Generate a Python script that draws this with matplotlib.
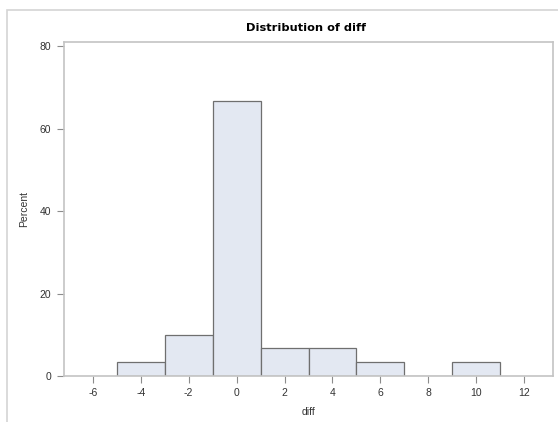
import matplotlib
matplotlib.use('Agg')
import matplotlib.pyplot as plt
from matplotlib.patches import Rectangle

# histogram of diff: bin midpoints (width 2) and percent of observations
BIN_MIDS = [-4, -2, 0, 2, 4, 6, 8, 10]
PERCENT = [3.33, 10.0, 66.67, 6.67, 6.67, 3.33, 0.0, 3.33]
X_TICKS = [-6, -4, -2, 0, 2, 4, 6, 8, 10, 12]
Y_TICKS = [0, 20, 40, 60, 80]

W, H = 558, 422

plt.rcParams['font.family'] = ['Liberation Sans', 'DejaVu Sans']

fig = plt.figure(figsize=(W / 100, H / 100), dpi=100)
fig.patch.set_facecolor('white')

# outer graph border (runs off the right and bottom of the image)
fig.patches.append(Rectangle((7 / W, -0.1), 2, (H - 10) / H + 0.1,
                             transform=fig.transFigure, fill=False,
                             edgecolor='#d4d4d4', linewidth=1.2))

ax = fig.add_axes([64 / W, 1 - 376 / H, (553 - 64) / W, (376 - 42) / H])
ax.bar(BIN_MIDS, PERCENT, width=2, color='#e3e8f2', edgecolor='#6f6f6f',
       linewidth=0.9, zorder=2)

ax.set_xlim(-7.2, 13.2)
ax.set_ylim(0, 81)
ax.set_xticks(X_TICKS)
ax.set_yticks(Y_TICKS)
ax.set_xticklabels([str(t) for t in X_TICKS])
for sp in ax.spines.values():
  sp.set_color('#c4c4c4')
  sp.set_linewidth(1.2)
ax.tick_params(direction='out', length=5, width=0.8, color='#8c8c8c',
               labelsize=7.5, labelcolor='#333333', pad=4)

ax.set_xlabel('diff', fontsize=7.5, color='#333333', labelpad=6)
ax.set_ylabel('Percent', fontsize=7.5, color='#333333', labelpad=8)
fig.text(306 / W, 1 - 28 / H, 'Distribution of diff', ha='center',
         va='center', fontsize=8.2, fontweight='bold', family='DejaVu Sans')

fig.savefig('out.png', dpi=100)
